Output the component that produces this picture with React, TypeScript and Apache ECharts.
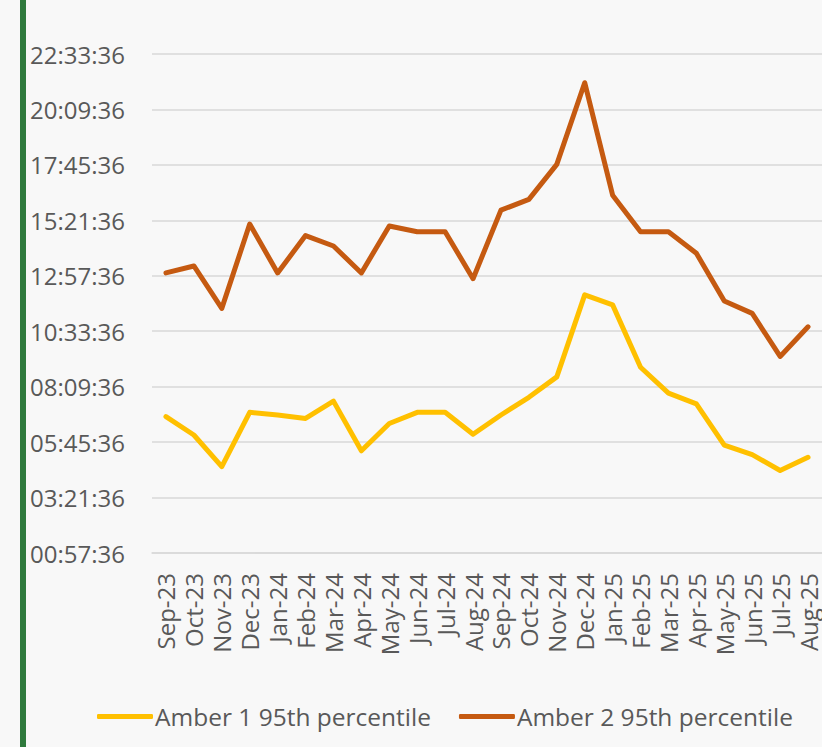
import React, { useEffect, useRef } from "react";
import * as echarts from "echarts";

const categories = [
  "Sep-23", "Oct-23", "Nov-23", "Dec-23", "Jan-24", "Feb-24", "Mar-24", "Apr-24",
  "May-24", "Jun-24", "Jul-24", "Aug-24", "Sep-24", "Oct-24", "Nov-24", "Dec-24",
  "Jan-25", "Feb-25", "Mar-25", "Apr-25", "May-25", "Jun-25", "Jul-25", "Aug-25",
];

const amber1 = [
  "06:52", "06:04", "04:42", "07:03", "06:56", "06:47", "07:32", "05:23",
  "06:34", "07:03", "07:03", "06:06", "06:56", "07:42", "08:35", "12:08",
  "11:42", "09:00", "07:53", "07:25", "05:38", "05:13", "04:32", "05:06",
];

const amber2 = [
  "13:05", "13:23", "11:33", "15:12", "13:05", "14:42", "14:15", "13:05",
  "15:07", "14:52", "14:52", "12:50", "15:48", "16:16", "17:47", "21:19",
  "16:27", "14:52", "14:52", "13:56", "11:52", "11:20", "09:28", "10:45",
];

// y-axis tick labels: 00:57:36 + k * 2:24:00
const axisMinTime = "00:57:36";
const axisMaxTime = "22:33:36";
const axisStepTime = "02:24:00";

const toSec = (t: string) => {
  const p = t.split(":").map(Number);
  return p[0] * 3600 + p[1] * 60 + (p[2] || 0);
};
const pad = (n: number) => String(n).padStart(2, "0");
const fmt = (s: number) => {
  const r = Math.round(s);
  return `${pad(Math.floor(r / 3600))}:${pad(Math.floor((r % 3600) / 60))}:${pad(r % 60)}`;
};

export default function App() {
  const ref = useRef<HTMLDivElement>(null);
  useEffect(() => {
    if (!ref.current) return;
    const chart = echarts.init(ref.current, undefined, { renderer: "svg" });
    const base = toSec(axisMinTime);
    const top = toSec(axisMaxTime) - base;
    const step = toSec(axisStepTime);
    const font = "'Open Sans', 'Noto Sans', sans-serif";
    chart.setOption({
      animation: false,
      backgroundColor: "#f8f8f8",
      textStyle: { fontFamily: font },
      graphic: [
        { type: "rect", left: 20, top: 0, shape: { width: 6, height: 747 }, style: { fill: "#2f7a3d" }, z: 10 },
      ],
      grid: { left: 152, right: -6, top: 54, bottom: 194, containLabel: false },
      legend: {
        left: 97,
        top: 704,
        padding: 0,
        icon: "roundRect",
        itemWidth: 56,
        itemHeight: 5,
        itemGap: 28,
        textStyle: { color: "#595959", fontSize: 24.5, fontFamily: font, padding: [0, 0, 0, -3] },
        data: ["Amber 1 95th percentile", "Amber 2 95th percentile"],
      },
      xAxis: {
        type: "category",
        data: categories,
        boundaryGap: true,
        axisLine: { show: true, lineStyle: { color: "#d9d9d9", width: 1.5 } },
        axisTick: { show: false },
        axisLabel: {
          rotate: 90,
          interval: 0,
          margin: 20,
          color: "#595959",
          fontSize: 24,
          fontFamily: font,
        },
      },
      yAxis: {
        type: "value",
        min: 0,
        max: top,
        interval: step,
        axisLine: { show: false },
        axisTick: { show: false },
        splitLine: { lineStyle: { color: "#d9d9d9", width: 1.5 } },
        axisLabel: {
          margin: 27,
          color: "#595959",
          fontSize: 24,
          fontFamily: font,
          formatter: (v: number) => fmt(v + base),
        },
      },
      series: [
        {
          name: "Amber 1 95th percentile",
          type: "line",
          data: amber1.map((t) => toSec(t) - base),
          symbol: "none",
          lineStyle: { color: "#ffc000", width: 5, cap: "round", join: "round" },
          itemStyle: { color: "#ffc000" },
        },
        {
          name: "Amber 2 95th percentile",
          type: "line",
          data: amber2.map((t) => toSec(t) - base),
          symbol: "none",
          lineStyle: { color: "#c55a11", width: 5, cap: "round", join: "round" },
          itemStyle: { color: "#c55a11" },
        },
      ],
    });
    return () => chart.dispose();
  }, []);
  return <div ref={ref} style={{ position: "fixed", left: 0, top: 0, width: 822, height: 747 }} />;
}
